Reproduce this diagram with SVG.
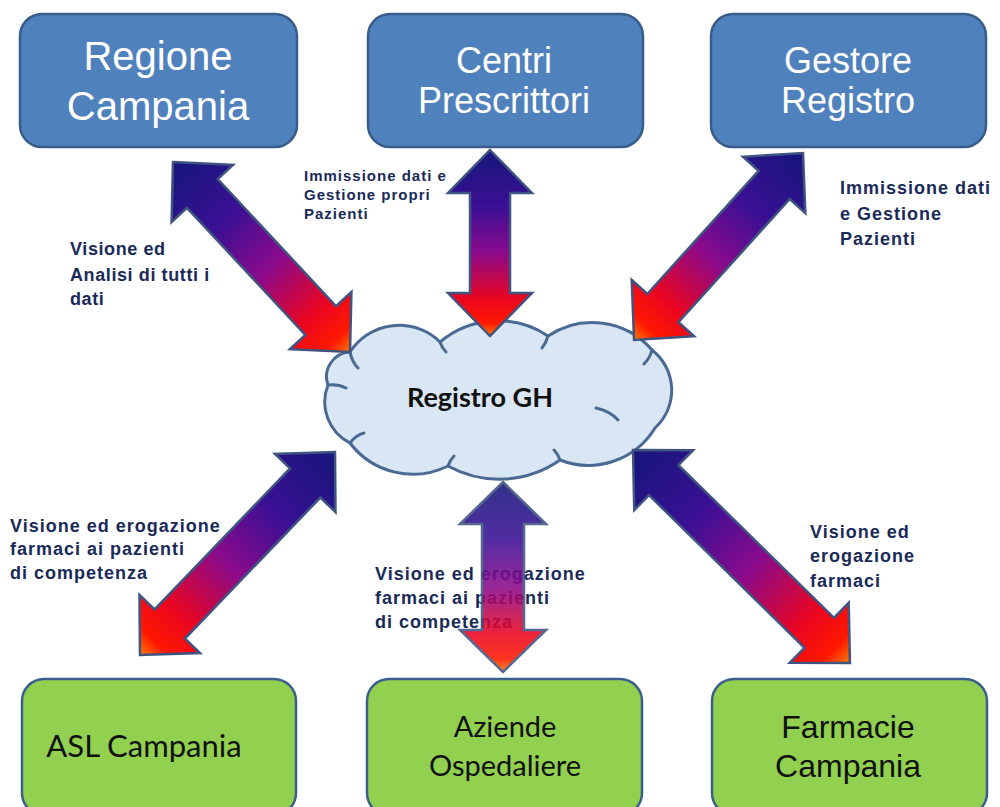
<svg xmlns="http://www.w3.org/2000/svg" width="1000" height="807" viewBox="0 0 1000 807">
<defs>
<linearGradient id="ag" x1="0" y1="0" x2="1" y2="0">
<stop offset="0" stop-color="#16167A"/>
<stop offset="0.3" stop-color="#3A1094"/>
<stop offset="0.55" stop-color="#8A0A8C"/>
<stop offset="0.8" stop-color="#EA0520"/>
<stop offset="0.93" stop-color="#FF1800"/>
<stop offset="1" stop-color="#FF7A00"/>
</linearGradient>
<style>
.top rect{fill:#4F81BD;stroke:#385D8A;stroke-width:2.5}
.bot rect{fill:#92D050;stroke:#3A5F8B;stroke-width:2.5}
.tt{font-family:"Liberation Sans",Arial,sans-serif;fill:#fff;text-anchor:middle}
.bt{font-family:Lato,"Liberation Sans",sans-serif;fill:#111;text-anchor:middle}
.lab{font-family:"Liberation Sans",Arial,sans-serif;font-weight:bold;fill:#1A2A58}
.arr{fill:url(#ag);stroke:#3F5480;stroke-width:2.5;stroke-linejoin:miter}
.cl{fill:#D9E6F3;stroke:#4A6A94;stroke-width:3}
.cli{fill:none;stroke:#4A6A94;stroke-width:3;stroke-linecap:round}
</style>
</defs>
<rect width="1000" height="807" fill="#fff"/>

<g id="regione-campania" class="top">
<rect x="20" y="14" width="277" height="133" rx="22"/>
<text class="tt" font-size="40"><tspan x="158" y="70">Regione</tspan><tspan x="158" y="120">Campania</tspan></text>
</g>
<g id="centri-prescrittori" class="top">
<rect x="368" y="14" width="275" height="133" rx="22"/>
<text class="tt" font-size="36"><tspan x="504" y="73">Centri</tspan><tspan x="504" y="113">Prescrittori</tspan></text>
</g>
<g id="gestore-registro" class="top">
<rect x="711" y="14" width="275" height="133" rx="22"/>
<text class="tt" font-size="36"><tspan x="848" y="73">Gestore</tspan><tspan x="848" y="113">Registro</tspan></text>
</g>

<g id="registro-gh">
<path class="cl" d="M 328,385 A 24.7,24.7 0 0 1 350,352 A 58.5,58.5 0 0 1 440,342 A 90,90 0 0 1 548,336 A 79,79 0 0 1 652,350 A 51,51 0 0 1 655,428 A 78,78 0 0 1 560,460 A 106,106 0 0 1 448,466 A 79,79 0 0 1 350,443 A 46,46 0 0 1 328,385 Z"/>
<path class="cli" d="M 350,352 q 2,10 8,16 M 440,342 q 2,6 6,10 M 548,336 q -2,7 -6,12 M 652,350 q -2,8 -8,14 M 596,408 q 14,3 22,12 M 560,460 q -2,-6 -6,-10 M 448,466 q 2,-6 6,-10 M 350,443 q 6,-8 14,-10 M 328,385 q 10,-1 18,3"/>
<text x="480" y="407" font-family="Lato,'Liberation Sans',sans-serif" font-weight="bold" font-size="27" fill="#111" text-anchor="middle">Registro GH</text>
</g>

<g id="asl-campania" class="bot">
<rect x="22" y="679" width="274" height="136" rx="22"/>
<text class="bt" font-size="31" x="144" y="757">ASL Campania</text>
</g>
<g id="aziende-ospedaliere" class="bot">
<rect x="367" y="679" width="275" height="136" rx="22"/>
<text class="bt" font-size="29"><tspan x="505" y="737">Aziende</tspan><tspan x="505" y="776">Ospedaliere</tspan></text>
</g>
<g id="farmacie-campania" class="bot">
<rect x="712" y="679" width="275" height="136" rx="22"/>
<text class="tt" font-size="32" style="fill:#111"><tspan x="848" y="738">Farmacie</tspan><tspan x="848" y="777">Campania</tspan></text>
</g>

<g id="label-aziende" class="lab" font-size="18" letter-spacing="1">
<text x="375" y="580">Visione ed erogazione</text>
<text x="375" y="604">farmaci ai pazienti</text>
<text x="375" y="628">di competenza</text>
</g>

<g id="connectors">
<path class="arr" transform="translate(173,162) rotate(47.03)" d="M0,0 L43,-42 L43,-21 L216.7,-21 L216.7,-42 L259.7,0 L216.7,42 L216.7,21 L43,21 L43,42 Z"/>
<path class="arr" transform="translate(490,150) rotate(90)" d="M0,0 L43,-42 L43,-20 L143,-20 L143,-42 L186,0 L143,42 L143,20 L43,20 L43,42 Z"/>
<path class="arr" transform="translate(803,153) rotate(132.1)" d="M0,0 L43,-42 L43,-21 L209,-21 L209,-42 L252,0 L209,42 L209,21 L43,21 L43,42 Z"/>
<path class="arr" transform="translate(335,452) rotate(133.85)" d="M0,0 L43,-42 L43,-21 L238.5,-21 L238.5,-42 L281.5,0 L238.5,42 L238.5,21 L43,21 L43,42 Z"/>
<path class="arr" opacity="0.88" transform="translate(503,482) rotate(90)" d="M0,0 L42,-43 L42,-21 L148,-21 L148,-43 L190,0 L148,43 L148,21 L42,21 L42,43 Z"/>
<path class="arr" transform="translate(633,450) rotate(44.47)" d="M0,0 L43,-42 L43,-21 L261,-21 L261,-42 L304,0 L261,42 L261,21 L43,21 L43,42 Z"/>
</g>

<g id="labels" class="lab">
<text font-size="18" letter-spacing="0.6"><tspan x="70" y="255">Visione ed</tspan><tspan x="70" y="281">Analisi di tutti i</tspan><tspan x="70" y="305">dati</tspan></text>
<text font-size="15" letter-spacing="1"><tspan x="304" y="181">Immissione dati e</tspan><tspan x="304" y="200">Gestione  propri</tspan><tspan x="304" y="219">Pazienti</tspan></text>
<text font-size="18" letter-spacing="1"><tspan x="840" y="194">Immissione dati</tspan><tspan x="840" y="220">e Gestione</tspan><tspan x="840" y="245">Pazienti</tspan></text>
<text font-size="18" letter-spacing="1"><tspan x="10" y="532">Visione ed erogazione</tspan><tspan x="10" y="555">farmaci ai pazienti</tspan><tspan x="10" y="579">di competenza</tspan></text>
<text font-size="18" letter-spacing="1"><tspan x="810" y="538">Visione ed</tspan><tspan x="810" y="562">erogazione</tspan><tspan x="810" y="587">farmaci</tspan></text>
</g>
</svg>
